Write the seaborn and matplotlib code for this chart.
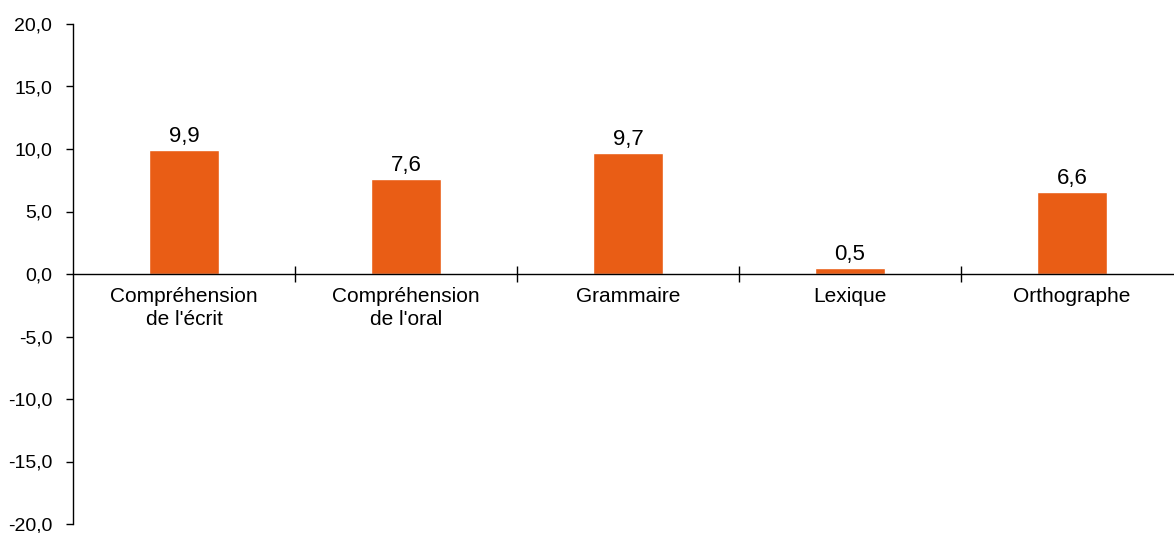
import seaborn as sns
import numpy as np
import pandas as pd
import matplotlib.pyplot as plt
from matplotlib.ticker import FuncFormatter, FixedLocator

categories = ["Compréhension\nde l'écrit", "Compréhension\nde l'oral", "Grammaire", "Lexique", "Orthographe"]
valeurs = [9.9, 7.6, 9.7, 0.5, 6.6]
yticks = [-20, -15, -10, -5, 0, 5, 10, 15, 20]

df = pd.DataFrame({'categorie': categories, 'valeur': valeurs})

sns.set_style('white')
plt.rcParams['font.family'] = ['Liberation Sans', 'DejaVu Sans']
plt.rcParams['text.color'] = 'black'
plt.rcParams['xtick.color'] = 'black'
plt.rcParams['ytick.color'] = 'black'

fig = plt.figure(figsize=(11.74, 5.33), dpi=100)
ax = fig.add_axes([73/1174, 9/533, 1110/1174, 500/533])

sns.barplot(x='categorie', y='valeur', data=df, color='#E95D15', saturation=1,
            width=0.315, ax=ax)

# etiquettes des valeurs
ax.bar_label(ax.containers[0], labels=[f'{v:.1f}'.replace('.', ',') for v in valeurs],
             padding=2, fontsize=16, color='black')

ax.set_ylim(-20, 20)
ax.set_xlim(-0.5, len(categories) - 0.5)
ax.set_yticks(yticks)
ax.yaxis.set_major_formatter(FuncFormatter(lambda v, p: f'{v:.1f}'.replace('.', ',')))

ax.spines['top'].set_visible(False)
ax.spines['right'].set_visible(False)
ax.spines['bottom'].set_position(('data', 0))
ax.spines['left'].set_color('black')
ax.spines['bottom'].set_color('black')
ax.spines['left'].set_linewidth(1)
ax.spines['bottom'].set_linewidth(1)

ax.tick_params(axis='y', direction='out', length=5, width=1, labelsize=14, pad=10, left=True)
ax.tick_params(axis='x', which='major', length=0, labelsize=15, pad=9)
for lab in ax.get_xticklabels():
    lab.set_linespacing(1.3)
ax.xaxis.set_minor_locator(FixedLocator(np.arange(0.5, len(categories) - 1, 1)))
ax.tick_params(axis='x', which='minor', direction='inout', length=12, width=1, bottom=True)

ax.set_xlabel('')
ax.set_ylabel('')

fig.savefig('out.png', dpi=100)
